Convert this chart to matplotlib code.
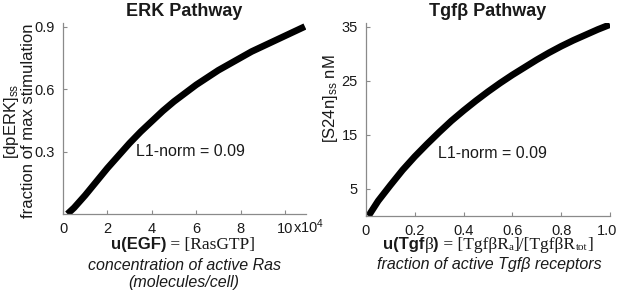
import matplotlib
matplotlib.use("Agg")
import matplotlib.pyplot as plt
from matplotlib.transforms import IdentityTransform, ScaledTranslation

# ERK pathway curve (x in molecules/cell, y = fraction of max stimulation)
erk_x = [0.2e4, 0.5e4, 1e4, 1.5e4, 2e4, 2.5e4, 3e4, 3.5e4, 4e4, 4.5e4, 5e4, 5.5e4,
         6e4, 6.5e4, 7e4, 7.5e4, 8e4, 8.5e4, 9e4, 9.5e4, 10e4, 10.5e4, 10.9e4]
erk_y = [0.0, 0.03, 0.09, 0.155, 0.22, 0.28, 0.34, 0.395, 0.445, 0.495, 0.54, 0.58,
         0.62, 0.655, 0.69, 0.72, 0.75, 0.78, 0.805, 0.83, 0.855, 0.88, 0.90]
erk_xticks = [0, 2e4, 4e4, 6e4, 8e4, 10e4]
erk_xticklabels = ["0", "2", "4", "6", "8", "10"]
erk_yticks = [0.3, 0.6, 0.9]
erk_yticklabels = ["0.3", "0.6", "0.9"]

# Tgfb pathway curve (x = fraction of active receptors, y = nM)
tgf_x = [0.01, 0.05, 0.1, 0.15, 0.2, 0.25, 0.3, 0.35, 0.4, 0.45, 0.5,
         0.55, 0.6, 0.65, 0.7, 0.75, 0.8, 0.85, 0.9, 0.95, 1.0]
tgf_y = [0.0, 2.8, 5.7, 8.5, 11.0, 13.3, 15.5, 17.6, 19.5, 21.3, 23.0,
         24.6, 26.1, 27.5, 28.9, 30.2, 31.4, 32.5, 33.5, 34.5, 35.4]
tgf_xticks = [0, 0.2, 0.4, 0.6, 0.8, 1.0]
tgf_xticklabels = ["0", "0.2", "0.4", "0.6", "0.8", "1.0"]
tgf_yticks = [5, 15, 25, 35]
tgf_yticklabels = ["5", "15", "25", "35"]

l1_text = "L1-norm = 0.09"

W, H = 617, 292
SANS = "Liberation Sans"
SERIF = "Liberation Serif"
TXT = "#1a1a1a"
SPINE = "#8a8a8a"

plt.rcParams["font.family"] = [SANS, "DejaVu Sans"]
plt.rcParams["mathtext.fontset"] = "custom"
plt.rcParams["mathtext.rm"] = SANS
plt.rcParams["mathtext.it"] = SANS + ":italic"
plt.rcParams["mathtext.bf"] = SANS + ":bold"

fig = plt.figure(figsize=(W / 100, H / 100), dpi=100)


def px_axes(x0, x1, ytop, ybot):
    return fig.add_axes([x0 / W, (H - ybot) / H, (x1 - x0) / W, (ybot - ytop) / H])


def style_axes(ax):
    for s in ["top", "right"]:
        ax.spines[s].set_visible(False)
    for s in ["left", "bottom"]:
        ax.spines[s].set_color(SPINE)
        ax.spines[s].set_linewidth(0.9)
    ax.tick_params(direction="in", length=3, width=0.8, color=SPINE,
                   labelsize=10.5, labelcolor=TXT, pad=6)


def ftext(x, y, s, **kw):
    # x, y in image pixels from top-left
    return fig.text(x, H - y, s, transform=IdentityTransform(), color=TXT, **kw)


def segments(xc, y, segs):
    # place a row of differently styled text pieces, centred on xc
    r = fig.canvas.get_renderer()
    objs = []
    total = 0
    for s, kw, dy in segs:
        t = ftext(0, y + dy, s, va="center", ha="left", **kw)
        w = t.get_window_extent(r).width
        objs.append((t, w, dy))
        total += w
    x = xc - total / 2
    for t, w, dy in objs:
        t.set_position((x, H - (y + dy)))
        x += w


# left panel
ax1 = px_axes(63, 306, 23, 214)
ax1.plot(erk_x, erk_y, color="black", lw=4.8, solid_capstyle="butt", solid_joinstyle="round")
ax1.set_xlim(0, 1.095e5)
ax1.set_ylim(0, 0.917)
ax1.set_xticks(erk_xticks)
ax1.set_xticklabels(erk_xticklabels)
ax1.set_yticks(erk_yticks)
ax1.set_yticklabels(erk_yticklabels)
style_axes(ax1)
ax1.set_title("ERK Pathway", fontsize=13, fontweight="bold", color=TXT, pad=5)
ax1.text(3.3e4, 0.3, l1_text, fontsize=11.5, color=TXT, va="center")

# right panel
ax2 = px_axes(366, 610, 23, 216)
ax2.plot(tgf_x, tgf_y, color="black", lw=4.8, solid_capstyle="butt", solid_joinstyle="round")
ax2.set_xlim(0, 1.0)
ax2.set_ylim(0, 35.7)
ax2.set_xticks(tgf_xticks)
ax2.set_xticklabels(tgf_xticklabels)
ax2.set_yticks(tgf_yticks)
ax2.set_yticklabels(tgf_yticklabels)
style_axes(ax2)
# nudge the last label so it stays inside the picture
last = ax2.get_xticklabels()[-1]
last.set_transform(last.get_transform() + ScaledTranslation(-3 / 100, 0, fig.dpi_scale_trans))
ax2.set_title("Tgf\u03b2 Pathway", fontsize=13, fontweight="bold", color=TXT, pad=5)
ax2.text(0.295, 11.5, l1_text, fontsize=11.5, color=TXT, va="center")

# exponent label
ftext(293, 227, r"x10$^{4}$", fontsize=10.5, va="center", ha="left")

# y labels
ftext(19, 121, "[dpERK]$_{\\mathrm{ss}}$\nfraction of max stimulation", fontsize=12,
      rotation=90, ha="center", va="center", multialignment="center", linespacing=1.05)
ftext(330, 99, r"[S24n]$_{\mathrm{ss}}$ nM", fontsize=12, rotation=90, ha="center", va="center")

# x labels
bold = dict(fontsize=12, fontweight="bold", family=SANS)
ser = dict(fontsize=12.5, family=SERIF)
sub = dict(fontsize=8, family=SERIF)
it = dict(fontsize=11.5, style="italic", family=SANS)

segments(183, 245, [("u(EGF)", bold, 0), (" = [RasGTP]", ser, 0)])
ftext(184, 265, "concentration of active Ras", ha="center", va="center", **it)
ftext(184, 283, "(molecules/cell)", ha="center", va="center", **it)

segments(488, 245, [("u(Tgf", bold, 0), ("\u03b2", ser, 0), (")", bold, 0),
                    (" = [Tgf\u03b2R", ser, 0), ("a", sub, 3), ("]/[Tgf\u03b2R", ser, 0),
                    ("tot", sub, 3), ("]", ser, 0)])
ftext(489, 265, "fraction of active Tgf\u03b2 receptors", ha="center", va="center", **it)

fig.savefig("out.png", dpi=100)
